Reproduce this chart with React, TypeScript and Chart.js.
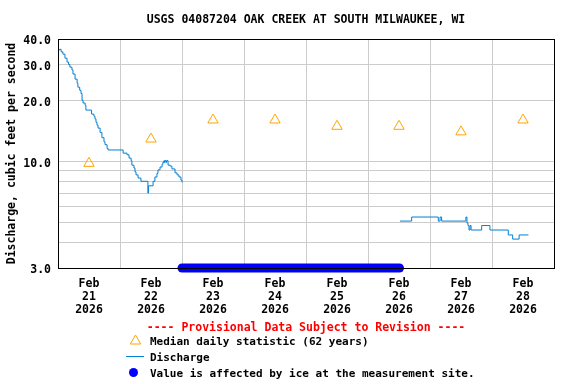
import React, { useEffect, useRef } from 'react';
import { Chart, registerables } from 'chart.js';

Chart.register(...registerables);

const TITLE = 'USGS 04087204 OAK CREEK AT SOUTH MILWAUKEE, WI';
const Y_TITLE = 'Discharge, cubic feet per second';
const PROVISIONAL = '---- Provisional Data Subject to Revision ----';
const LEGEND_MEDIAN = 'Median daily statistic (62 years)';
const LEGEND_DISCHARGE = 'Discharge';
const LEGEND_ICE = 'Value is affected by ice at the measurement site.';

const monthLabel = 'Feb';
const yearLabel = '2026';
const dayLabels = ['21', '22', '23', '24', '25', '26', '27', '28'];

// hours since Feb 21 2026 00:00
const medianHours = [12, 36, 60, 84, 108, 132, 156, 180];
const medianValues = [9.8, 12.9, 16.0, 16.0, 14.9, 14.9, 14.0, 16.0];

const dischargeHours1 = [
  0, 0.6, 1.2, 1.9, 2.7, 3.5, 4.1, 4.6, 5.4, 5.8, 6.6, 7.4, 7.7, 8.4, 8.9, 9.3, 9.7, 10.5, 10.8,
  13.0, 13.9, 14.3, 14.7, 15.1, 15.5, 16.3, 17.0, 17.8, 18.2, 19.0, 19.4, 25.2, 26.7, 27.5, 28.3,
  28.6, 29.4, 29.8, 30.2, 31.0, 32.1, 34.8, 35.0, 36.8, 37.5, 38.3, 38.7, 39.5, 40.3, 40.6, 41.0,
  41.2, 41.4, 41.8, 42.0, 42.6, 43.4, 44.1, 45.3, 46.1, 46.8, 47.6, 48.0,
];
const dischargeValues1 = [
  35.3, 35.6, 34.6, 33.7, 32.2, 30.8, 30.0, 29.1, 28.2, 26.9, 25.4, 24.3, 23.2, 22.4, 21.6, 20.0, 19.4, 18.9, 17.9,
  17.1, 16.7, 16.2, 15.6, 15.1, 14.6, 13.9, 13.1, 12.5, 12.1, 11.6, 11.4, 11.0, 10.8, 10.4, 10.1,
  9.6, 9.3, 8.9, 8.6, 8.3, 8.0, 7.0, 7.6, 8.0, 8.4, 8.75, 9.1, 9.4, 9.7, 9.9, 10.1,
  9.9, 10.1, 9.9, 10.1, 9.6, 9.5, 9.2, 8.8, 8.6, 8.4, 8.1, 7.9,
];

const dischargeHours2 = [
  132.4, 136.9, 147.2, 147.9, 148.5, 157.9, 158.3, 158.7, 159.1, 159.5, 159.9, 164.0, 167.2, 174.3, 176.0, 178.5, 182.1,
];
const dischargeValues2 = [
  5.1, 5.34, 5.1, 5.34, 5.1, 5.34, 5.0, 4.85, 4.61, 4.85, 4.61, 4.85, 4.61, 4.36, 4.16, 4.36, 4.36,
];

const iceHours = [48, 132.2];
const iceValues = [3, 3];

const yTickValues = [3, 4, 5, 6, 7, 8, 9, 10, 20, 30, 40];
const yLabeledTicks = [3, 10, 20, 30, 40];

const FONT = '"DejaVu Sans Mono", "Liberation Mono", monospace';
const MEDIAN_COLOR = '#FFA500';
const DISCHARGE_COLOR = '#0080D4';
const ICE_COLOR = '#0000FF';
const GRID_COLOR = '#CCCCCC';

const toXY = (xs: number[], ys: number[]) => xs.map((x, i) => ({ x, y: ys[i] }));

const decorPlugin = {
  id: 'decor',
  afterDatasetsDraw(chart: any) {
    const { ctx, chartArea: a } = chart;
    ctx.save();
    ctx.strokeStyle = '#000';
    ctx.lineWidth = 1;
    ctx.strokeRect(
      Math.round(a.left) + 0.5,
      Math.round(a.top) + 0.5,
      Math.round(a.right - a.left),
      Math.round(a.bottom - a.top)
    );
    ctx.restore();
  },
  afterDraw(chart: any) {
    const { ctx, chartArea: a } = chart;
    const cx = (a.left + a.right) / 2;
    ctx.save();
    ctx.textBaseline = 'middle';
    // title
    ctx.fillStyle = '#000';
    ctx.font = `bold 11.5px ${FONT}`;
    ctx.textAlign = 'center';
    ctx.fillText(TITLE, cx, 20.5);
    // provisional
    ctx.fillStyle = '#FF0000';
    ctx.fillText(PROVISIONAL, cx, 328.5);
    // legend entries
    ctx.textAlign = 'left';
    ctx.fillStyle = '#000';
    ctx.font = `bold 11px ${FONT}`;
    const textX = 150;
    // median triangle
    const tx = 135.5, ty = 341, r = 6;
    ctx.beginPath();
    ctx.moveTo(tx, ty - r);
    ctx.lineTo(tx + Math.sin((2 * Math.PI) / 3) * r, ty + r / 2);
    ctx.lineTo(tx - Math.sin((2 * Math.PI) / 3) * r, ty + r / 2);
    ctx.closePath();
    ctx.strokeStyle = MEDIAN_COLOR;
    ctx.lineWidth = 1;
    ctx.stroke();
    ctx.fillText(LEGEND_MEDIAN, textX, 342.5);
    // discharge line
    ctx.beginPath();
    ctx.moveTo(126, 356.5);
    ctx.lineTo(144, 356.5);
    ctx.strokeStyle = DISCHARGE_COLOR;
    ctx.stroke();
    ctx.fillText(LEGEND_DISCHARGE, textX, 358);
    // ice dot
    ctx.beginPath();
    ctx.arc(133.5, 372.5, 4.5, 0, Math.PI * 2);
    ctx.fillStyle = ICE_COLOR;
    ctx.fill();
    ctx.fillStyle = '#000';
    ctx.fillText(LEGEND_ICE, textX, 374);
    ctx.restore();
  },
};

export default function App() {
  const ref = useRef<HTMLCanvasElement>(null);

  useEffect(() => {
    if (!ref.current) return;
    const chart = new Chart(ref.current, {
      type: 'line',
      data: {
        datasets: [
          {
            label: 'Discharge',
            data: toXY(dischargeHours1, dischargeValues1),
            borderColor: DISCHARGE_COLOR,
            borderWidth: 1,
            stepped: true,
            pointRadius: 0,
            fill: false,
          },
          {
            label: 'Discharge ',
            data: toXY(dischargeHours2, dischargeValues2),
            borderColor: DISCHARGE_COLOR,
            borderWidth: 1,
            stepped: true,
            pointRadius: 0,
            fill: false,
          },
          {
            label: 'Ice affected',
            data: toXY(iceHours, iceValues),
            borderColor: ICE_COLOR,
            borderWidth: 9,
            borderCapStyle: 'round',
            pointRadius: 0,
            fill: false,
            clip: false as any,
          },
          {
            label: 'Median daily statistic (62 years)',
            data: toXY(medianHours, medianValues),
            showLine: false,
            pointStyle: 'triangle',
            pointRadius: 6,
            pointBorderColor: MEDIAN_COLOR,
            pointBackgroundColor: 'rgba(255,255,255,0)',
            pointBorderWidth: 1,
          },
        ],
      } as any,
      options: {
        animation: false,
        responsive: false,
        devicePixelRatio: 1,
        layout: { padding: { left: 0, right: 22, top: 39, bottom: 0 } },
        plugins: {
          legend: { display: false },
          tooltip: { enabled: false },
          title: { display: false },
        },
        scales: {
          x: {
            type: 'linear',
            min: 0,
            max: 192,
            afterBuildTicks: (scale: any) => {
              const t = [];
              for (let v = 0; v <= 192; v += 12) t.push({ value: v });
              scale.ticks = t;
            },
            afterFit: (scale: any) => {
              scale.height = 116;
            },
            grid: {
              color: (c: any) => (c.tick && c.tick.value % 24 === 0 ? GRID_COLOR : 'rgba(0,0,0,0)'),
              lineWidth: 1,
              drawTicks: false,
            },
            border: { display: false },
            ticks: {
              autoSkip: false,
              maxRotation: 0,
              minRotation: 0,
              padding: 9.5,
              color: '#000',
              font: { family: FONT, size: 11.5, weight: 'bold', lineHeight: '13px' } as any,
              callback: (value: any) => {
                const v = Number(value);
                if (v % 24 !== 12) return '';
                return [monthLabel, dayLabels[(v - 12) / 24], yearLabel];
              },
            },
          },
          y: {
            type: 'logarithmic',
            min: 3,
            max: 40,
            afterBuildTicks: (scale: any) => {
              scale.ticks = yTickValues.map((v) => ({ value: v }));
            },
            afterFit: (scale: any) => {
              scale.width = 58;
            },
            grid: { color: GRID_COLOR, lineWidth: 1, drawTicks: false },
            border: { display: false },
            ticks: {
              autoSkip: false,
              padding: 7,
              color: '#000',
              font: { family: FONT, size: 11.5, weight: 'bold', lineHeight: '5px' } as any,
              callback: (value: any) => {
                const v = Number(value);
                // blank first line nudges the label down to sit on its gridline like the reference
                return yLabeledTicks.includes(v) ? ['', v.toFixed(1)] : '';
              },
            },
            title: {
              display: true,
              text: Y_TITLE,
              color: '#000',
              padding: { top: 5, bottom: 0 },
              font: { family: FONT, size: 11.5, weight: 'bold' } as any,
            },
          },
        },
      } as any,
      plugins: [decorPlugin],
    });
    return () => chart.destroy();
  }, []);

  return (
    <div style={{ position: 'absolute', left: 0, top: 0, width: 576, height: 384, background: '#fff' }}>
      <canvas ref={ref} width={576} height={384} style={{ display: 'block' }} />
    </div>
  );
}
